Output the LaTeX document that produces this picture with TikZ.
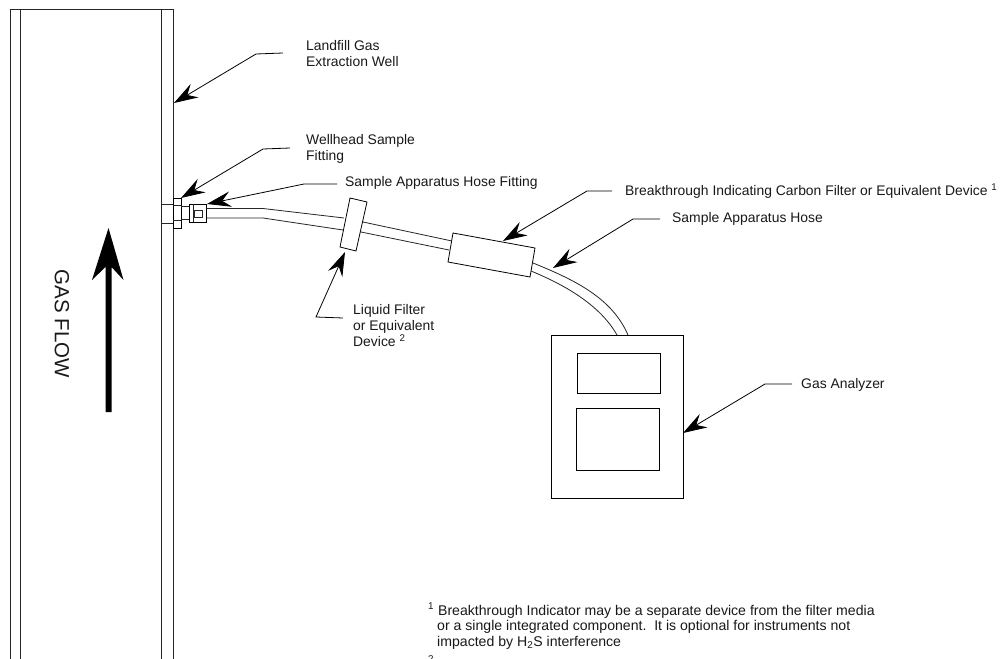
\documentclass[tikz,border=0pt]{standalone}
\usepackage{fontspec}
\setmainfont{Liberation Sans}
\usetikzlibrary{arrows.meta}
\tikzset{
  part/.style={draw=black,line width=0.8pt,fill=white},
  edgeline/.style={draw=black!85,line width=0.8pt},
  leader/.style={draw=black,line width=0.8pt,-{Stealth[length=24pt,width=15.5pt,inset=8.5pt]}},
  lbl/.style={font=\fontsize{13.9}{16}\selectfont,anchor=west,align=left,inner sep=0pt,text=black!90},
  note/.style={font=\fontsize{14.1}{15.7}\selectfont,anchor=north west,align=left,inner sep=0pt,text=black!90},
}
\begin{document}
\begin{tikzpicture}[x=1pt,y=-1pt]
\path[use as bounding box,fill=white] (0,0) rectangle (1003,658);
\begin{scope}
\clip (0,0) rectangle (1003,658);
% well
\draw[edgeline] (10.5,662) -- (10.5,9.5) -- (173.5,9.5) -- (173.5,662);
\draw[edgeline] (20.5,9.5) -- (20.5,662);
\draw[edgeline] (161,9.5) -- (161,662);
% stub and fitting
\draw[edgeline] (161,204) -- (173,204);
\draw[edgeline] (161,223) -- (173,223);
\node[part,inner sep=0pt,minimum width=8pt,minimum height=30pt] (nut) at (177,213) {};
\draw[edgeline] (173,205) -- (181,205);
\draw[edgeline] (173,220) -- (181,220);
\draw[edgeline] (181,206.5) -- (189,206.5);
\draw[edgeline] (181,219.5) -- (189,219.5);
\node[part,inner sep=0pt,minimum width=17pt,minimum height=18pt] (hosefit) at (197.5,213) {};
\draw[edgeline] (193,204) -- (193,222);
\draw[edgeline] (194,210) -- (202,210) -- (202,217) -- (194,217) -- cycle;
% hose
\draw[edgeline] (hosefit.east |- 0,208.5) -- (263,208.5) -- (344,218);
\draw[edgeline] (hosefit.east |- 0,218) -- (263,218) -- (343,230);
\draw[edgeline] (363,222) -- (452,241);
\draw[edgeline] (361,232) -- (449,250);
% filters
\draw[part] (350,198) -- (367,202) -- (356,251) -- (340,247) -- cycle;
\draw[part] (453,233) -- (535,248) -- (530,277) -- (448,262) -- cycle;
% curved hose
\draw[edgeline] (533,263) .. controls (575,280) and (612,298) .. (628,335);
\draw[edgeline] (531,271) .. controls (565,285) and (600,305) .. (617,335);
% analyzer
\node[part,anchor=north west,inner sep=0pt,minimum width=132pt,minimum height=163pt] (analyzer) at (551,335) {};
\node[part,anchor=north west,inner sep=0pt,minimum width=83pt,minimum height=40pt] (disp) at (577,353) {};
\node[part,anchor=north west,inner sep=0pt,minimum width=83pt,minimum height=62pt] (panel) at (576,408) {};
% flow arrow
\draw[fill=black,draw=none] (105.5,412) -- (105.5,267) -- (92,280) -- (108.5,228) -- (123.5,280) -- (111.5,267) -- (111.5,412) -- cycle;
\node[rotate=-90,font=\fontsize{20.5}{24}\selectfont,inner sep=0pt,text=black!90] (flow) at (62,324) {GAS FLOW};
% labels
\node[lbl] (l1) at (306,54) {Landfill Gas\\Extraction Well};
\node[lbl] (l2) at (306,149) {Wellhead Sample\\Fitting};
\node[lbl] (l3) at (345,183) {Sample Apparatus Hose Fitting};
\node[lbl] (l4) at (625,191) {Breakthrough Indicating Carbon Filter or Equivalent Device \textsuperscript{1}};
\node[lbl] (l5) at (672,219) {Sample Apparatus Hose};
\node[lbl] (l6) at (353,326) {Liquid Filter\\or Equivalent\\Device \textsuperscript{2}};
\node[lbl] (l7) at (801,385) {Gas Analyzer};
\node[note] (fn) at (428,603) {\textsuperscript{1} Breakthrough Indicator may be a separate device from the filter media\\
\hspace*{9pt}or a single integrated component.\ \ It is optional for instruments not\\
\hspace*{9pt}impacted by H\textsubscript{2}S interference};
\node[note] (fn2) at (428,655) {\textsuperscript{2}};
% leaders
\coordinate (t1) at (174,103);
\coordinate (t2) at (181,198);
\coordinate (t3) at (207,204);
\coordinate (t4) at (503,241);
\coordinate (t5) at (553,268);
\coordinate (t6) at (345,252);
\coordinate (t7) at (683,433);
\coordinate (e1) at (283,53);
\coordinate (e2) at (290,148);
\coordinate (e3) at (337,184);
\coordinate (e4) at (612,191);
\coordinate (e5) at (660,219);
\coordinate (e6) at (343,318);
\coordinate (e7) at (792,384);
\draw[leader] (e1) -- (256,54) -- (t1);
\draw[leader] (e2) -- (263,149) -- (t2);
\draw[leader] (e3) -- (304,184) -- (t3);
\draw[leader] (e4) -- (587,191) -- (t4);
\draw[leader] (e5) -- (633,219) -- (t5);
\draw[leader] (e6) -- (316,317) -- (t6);
\draw[leader] (e7) -- (765,384) -- (t7);
\end{scope}
\end{tikzpicture}
\end{document}
